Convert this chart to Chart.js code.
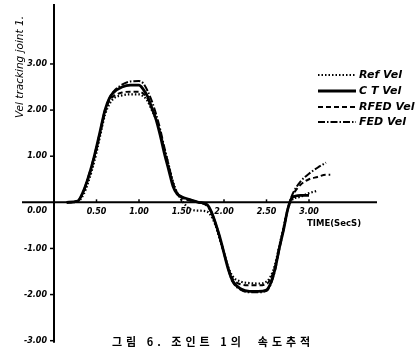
<!DOCTYPE html>
<html lang="ko">
<head>
<meta charset="UTF-8">
<title>Joint 1 velocity tracking</title>
<script src="https://cdn.jsdelivr.net/npm/chart.js@4.4.0/dist/chart.umd.min.js"></script>
<style>
    body { margin: 0; background: #fff; }
    #wrap { width: 417px; height: 349px; position: relative; }
</style>
</head>
<body>
<div id="wrap"><canvas id="c" width="417" height="349"></canvas></div>
<script>
// time samples (sec)
const times = [0.15, 0.28, 0.35, 0.4, 0.45, 0.5, 0.55, 0.6, 0.65, 0.7, 0.8, 0.9, 1.0, 1.05, 1.1, 1.15,
    1.2, 1.25, 1.3, 1.35, 1.4, 1.45, 1.5, 1.6, 1.7, 1.8, 1.85, 1.9, 1.95, 2.0, 2.05, 2.1, 2.2, 2.3,
    2.4, 2.5, 2.55, 2.6, 2.65, 2.7, 2.75, 2.8, 2.9, 3.0, 3.1, 3.2, 3.25];

const refVel = [0, 0.02, 0.18, 0.42, 0.72, 1.08, 1.5, 1.9, 2.12, 2.25, 2.32, 2.34, 2.34, 2.3, 2.2, 2.0,
    1.8, 1.5, 1.15, 0.8, 0.45, 0.2, 0.05, -0.15, -0.18, -0.2, -0.3, -0.5, -0.8, -1.1, -1.4, -1.6, -1.72, -1.75,
    -1.76, -1.72, -1.6, -1.35, -0.95, -0.55, -0.15, 0.05, 0.12, 0.2, 0.25, null, null];

const ctVel = [0, 0.03, 0.26, 0.52, 0.83, 1.2, 1.6, 2.0, 2.25, 2.38, 2.5, 2.54, 2.54, 2.45, 2.3, 2.05,
    1.8, 1.45, 1.05, 0.7, 0.35, 0.18, 0.12, 0.06, 0.0, -0.05, -0.2, -0.45, -0.75, -1.1, -1.45, -1.7, -1.88, -1.93,
    -1.93, -1.9, -1.75, -1.45, -1.0, -0.6, -0.15, 0.1, 0.15, 0.15, null, null, null];

const rfedVel = [0, 0.03, 0.24, 0.5, 0.8, 1.15, 1.55, 1.95, 2.2, 2.3, 2.38, 2.4, 2.4, 2.36, 2.25, 2.05,
    1.82, 1.5, 1.1, 0.75, 0.4, 0.2, 0.1, 0.04, 0, -0.08, -0.22, -0.48, -0.78, -1.1, -1.42, -1.65, -1.78, -1.8,
    -1.8, -1.77, -1.65, -1.4, -0.98, -0.58, -0.15, 0.12, 0.38, 0.5, 0.55, 0.6, 0.6];

const fedVel = [0, 0.03, 0.26, 0.53, 0.84, 1.2, 1.6, 2.0, 2.25, 2.4, 2.55, 2.62, 2.63, 2.58, 2.42, 2.2,
    1.92, 1.58, 1.18, 0.8, 0.42, 0.2, 0.12, 0.05, 0.0, -0.06, -0.2, -0.45, -0.75, -1.1, -1.45, -1.72, -1.9, -1.95,
    -1.95, -1.92, -1.78, -1.48, -1.02, -0.6, -0.15, 0.15, 0.45, 0.62, 0.75, 0.86, null];

const seriesNames = ['Ref Vel', 'C T Vel', 'RFED Vel', 'FED Vel'];
const yTicks = [3, 2, 1, 0, -1, -2, -3];
const xTicks = [0.5, 1.0, 1.5, 2.0, 2.5, 3.0];

const dashes = [[1.5, 2], [], [5, 3], [7, 2, 1.5, 2]];
const widths = [2.2, 2.8, 2, 2];

function points(vals) {
    return times.map((t, i) => ({ x: t, y: vals[i] })).filter(p => p.y !== null);
}

const allSeries = [refVel, ctVel, rfedVel, fedVel];

const decor = {
    id: 'decor',
    afterDatasetsDraw(chart) {
        const ctx = chart.ctx;
        const xs = chart.scales.x, ys = chart.scales.y;
        const x0 = xs.getPixelForValue(0);
        const y0 = ys.getPixelForValue(0);
        const area = chart.chartArea;
        ctx.save();
        ctx.strokeStyle = '#000';
        ctx.fillStyle = '#000';
        ctx.lineWidth = 2;
        // axes
        ctx.beginPath();
        ctx.moveTo(x0, area.top);
        ctx.lineTo(x0, ys.getPixelForValue(-3) + 2);
        ctx.moveTo(22, y0);
        ctx.lineTo(area.right, y0);
        ctx.stroke();

        // y ticks
        ctx.lineWidth = 1.5;
        ctx.font = 'italic bold 8px "DejaVu Sans"';
        ctx.textAlign = 'right';
        ctx.textBaseline = 'middle';
        yTicks.forEach(v => {
            const py = ys.getPixelForValue(v);
            if (v !== 0) {
                ctx.beginPath();
                ctx.moveTo(x0 - 4, py);
                ctx.lineTo(x0, py);
                ctx.stroke();
            }
            ctx.fillText(v.toFixed(2), x0 - 7, v === 0 ? py + 9 : py);
        });

        // x ticks
        ctx.textAlign = 'center';
        xTicks.forEach(v => {
            const px = xs.getPixelForValue(v);
            ctx.beginPath();
            ctx.moveTo(px, y0 - 3);
            ctx.lineTo(px, y0);
            ctx.stroke();
            ctx.fillText(v.toFixed(2), px, y0 + 10);
        });

        // axis titles
        ctx.font = 'bold 8.5px "DejaVu Sans"';
        ctx.textAlign = 'left';
        ctx.fillText('TIME(SecS)', xs.getPixelForValue(3.0) - 2, y0 + 21);

        ctx.save();
        ctx.translate(20, 67);
        ctx.rotate(-Math.PI / 2);
        ctx.font = 'italic 10.5px "DejaVu Sans"';
        ctx.textAlign = 'center';
        ctx.fillText('Vel tracking joint 1.', 0, 0);
        ctx.restore();

        // legend
        ctx.font = 'italic bold 11px "DejaVu Sans"';
        ctx.textAlign = 'left';
        const rows = [75, 91, 107, 122];
        seriesNames.forEach((name, i) => {
            ctx.setLineDash(dashes[i]);
            ctx.lineWidth = widths[i];
            ctx.beginPath();
            ctx.moveTo(318, rows[i]);
            ctx.lineTo(356, rows[i]);
            ctx.stroke();
            ctx.setLineDash([]);
            ctx.fillText(name, 359, rows[i]);
        });

        // caption
        ctx.font = 'bold 11px "Noto Sans CJK KR"';
        ctx.letterSpacing = '4px';
        ctx.textAlign = 'left';
        ctx.fillText('그림 6. 조인트 1의  속도추적', 112, 342);
        ctx.restore();
    }
};

new Chart(document.getElementById('c'), {
    type: 'line',
    data: {
        datasets: allSeries.map((vals, i) => ({
            label: seriesNames[i],
            data: points(vals),
            borderColor: '#000',
            borderWidth: widths[i],
            borderDash: dashes[i],
            pointRadius: 0,
            fill: false,
            cubicInterpolationMode: 'monotone'
        }))
    },
    options: {
        responsive: false,
        animation: false,
        layout: { padding: { left: 54, right: 40, top: 4, bottom: 6 } },
        plugins: { legend: { display: false }, tooltip: { enabled: false } },
        scales: {
            x: { type: 'linear', min: 0, max: 3.8, display: false },
            y: { min: -3.05, max: 4.3, display: false }
        }
    },
    plugins: [decor]
});
</script>
</body>
</html>
